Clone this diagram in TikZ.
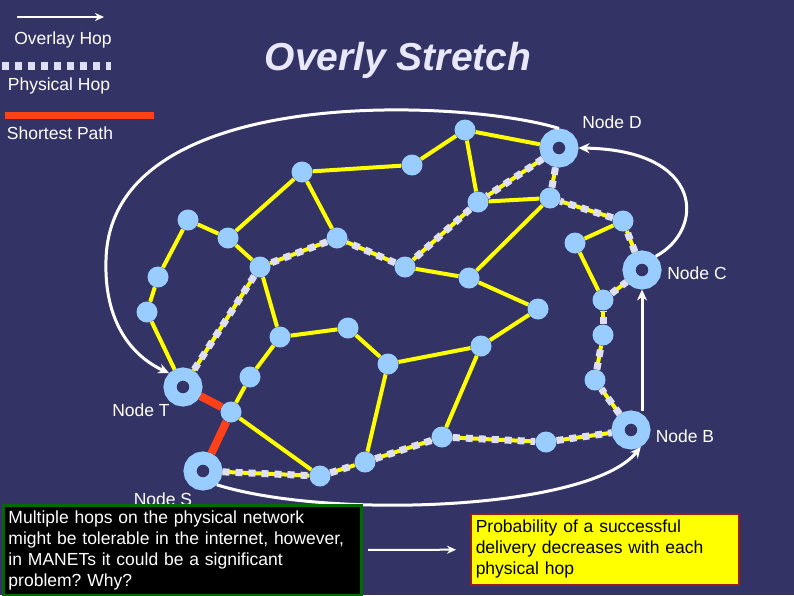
\documentclass[tikz,border=0pt]{standalone}
\usepackage{fontspec}
\setmainfont{Liberation Sans}
\usetikzlibrary{arrows.meta}
\frenchspacing

\definecolor{bgblue}{RGB}{51,51,102}
\definecolor{nodeblue}{RGB}{153,204,255}
\definecolor{linkyellow}{RGB}{255,255,0}
\definecolor{hopwhite}{RGB}{222,222,245}
\definecolor{pathred}{RGB}{255,65,25}
\definecolor{titlewhite}{RGB}{232,232,250}
\definecolor{boxgreen}{RGB}{0,105,0}
\definecolor{boxred}{RGB}{150,30,20}

\tikzset{
  host/.style={circle,fill=nodeblue,minimum size=21pt,inner sep=0pt},
  endhost/.style={circle,draw=nodeblue,fill=bgblue,line width=13pt,minimum size=26pt,inner sep=0pt},
  ylink/.style={draw=linkyellow,line width=4pt},
  physhop/.style={ylink,postaction={draw=hopwhite,line width=7pt,dash pattern=on 7pt off 6pt}},
  shortpath/.style={draw=pathred,line width=8pt},
  ovlhop/.style={draw=white,line width=3pt,-{Stealth[length=11pt,width=10pt]}},
  nodetag/.style={text=white},
}

\begin{document}
\begin{tikzpicture}[x=1pt,y=-1pt,>=Stealth, every node/.style={font=\fontsize{17.5}{21}\selectfont,text=white}]
\fill[bgblue] (0,0) rectangle (794,595);
\useasboundingbox (0,0) rectangle (794,595);

% legend
\coordinate (ovA) at (17,17);
\coordinate (ovB) at (104,17);
\draw[ovlhop,line width=2.5pt,-{Stealth[length=9pt,width=8pt]}] (ovA) -- (ovB);
\node (legOv) at (63,40) {Overlay Hop};
\coordinate (phA) at (2,66);
\coordinate (phB) at (111,66);
\draw[draw=hopwhite,line width=8pt,dash pattern=on 7pt off 6pt] (phA) -- (phB);
\node (legPh) at (59,86) {Physical Hop};
\coordinate (spA) at (5,115);
\coordinate (spB) at (154,115);
\draw[shortpath,line width=7pt] (spA) -- (spB);
\node (legSp) at (60,133) {Shortest Path};

\node[font=\fontsize{39}{44}\selectfont\bfseries\itshape,text=titlewhite] (title) at (398,60) {Overly Stretch};

% hosts
\node[host] (v1) at (465,130) {};
\node[host] (v2) at (412,165) {};
\node[host] (v3) at (302,172) {};
\node[host] (v4) at (188,220) {};
\node[host] (v5) at (228,238) {};
\node[host] (v6) at (337,238) {};
\node[host] (v7) at (478,202) {};
\node[host] (v8) at (550,198) {};
\node[host] (v9) at (623,221) {};
\node[host] (v10) at (575,243) {};
\node[host] (v11) at (260,267) {};
\node[host] (v12) at (405,267) {};
\node[host] (v13) at (469,278) {};
\node[host] (v14) at (158,277) {};
\node[host] (v15) at (147,312) {};
\node[host] (v16) at (603,300) {};
\node[host] (v17) at (603,335) {};
\node[host] (v18) at (280,337) {};
\node[host] (v19) at (348,328) {};
\node[host] (v20) at (481,346) {};
\node[host] (v21) at (388,364) {};
\node[host] (v22) at (250,377) {};
\node[host] (v23) at (595,380) {};
\node[host] (v24) at (231,412) {};
\node[host] (v25) at (442,437) {};
\node[host] (v26) at (546,442) {};
\node[host] (v27) at (320,476) {};
\node[host] (v28) at (365,462) {};
\node[host] (v29) at (538,309) {};

\node[endhost] (D) at (559,148) {};
\node[endhost] (C) at (642,270) {};
\node[endhost] (T) at (183,387) {};
\node[endhost] (B) at (631,430) {};
\node[endhost] (S) at (203,471) {};

\node[nodetag] (labD) at (612,122) {Node D};
\node[nodetag] (labC) at (697,273) {Node C};
\node[nodetag] (labT) at (141,410) {Node T};
\node[nodetag] (labB) at (685,436) {Node B};
\node[nodetag] (labS) at (163,499) {Node S};

% physical links
\draw[ylink] (v2) -- (v1);
\draw[ylink] (v1) -- (D);
\draw[ylink] (v1) -- (v7);
\draw[ylink] (v7) -- (v8);
\draw[ylink] (v8) -- (v13);
\draw[ylink] (v12) -- (v13);
\draw[ylink] (v13) -- (v29);
\draw[ylink] (v29) -- (v20);
\draw[ylink] (v20) -- (v21);
\draw[ylink] (v20) -- (v25);
\draw[ylink] (v21) -- (v19);
\draw[ylink] (v21) -- (v28);
\draw[ylink] (v19) -- (v18);
\draw[ylink] (v18) -- (v22);
\draw[ylink] (v22) -- (v24);
\draw[ylink] (v24) -- (v27);
\draw[ylink] (v18) -- (v11);
\draw[ylink] (v11) -- (v5);
\draw[ylink] (v5) -- (v4);
\draw[ylink] (v4) -- (v14);
\draw[ylink] (v14) -- (v15);
\draw[ylink] (v15) -- (T);
\draw[ylink] (v5) -- (v3);
\draw[ylink] (v3) -- (v6);
\draw[ylink] (v3) -- (v2);
\draw[ylink] (v9) -- (v10);
\draw[ylink] (v10) -- (v16);

% physical hops of the overlay route
\draw[physhop] (S) -- (v27);
\draw[physhop] (v27) -- (v28);
\draw[physhop] (v28) -- (v25);
\draw[physhop] (v25) -- (v26);
\draw[physhop] (v26) -- (B);
\draw[physhop] (B) -- (v23);
\draw[physhop] (v23) -- (v17);
\draw[physhop] (v17) -- (v16);
\draw[physhop] (v16) -- (C);
\draw[physhop] (C) -- (v9);
\draw[physhop] (v9) -- (v8);
\draw[physhop] (v8) -- (D);
\draw[physhop] (D) -- (v7);
\draw[physhop] (v7) -- (v12);
\draw[physhop] (v12) -- (v6);
\draw[physhop] (v6) -- (v11);
\draw[physhop] (v11) -- (T);

% shortest path
\draw[shortpath] (T) -- (v24);
\draw[shortpath] (v24) -- (S);

% overlay hops
\draw[ovlhop] (S.south east) .. controls (330,520) and (590,510) .. (B.-60);
\draw[ovlhop] (C.south |- B.north) -- (C.south);
\draw[ovlhop] (C.north east) .. controls (705,230) and (705,150) .. (D.east);
\draw[ovlhop] (D.north) .. controls (470,100) and (110,80) .. (106,260) .. controls (104,320) and (130,355) .. (T.north west);

% notes
\node[anchor=north west,fill=black,draw=boxgreen,line width=3pt,text width=348pt,inner xsep=5pt,minimum height=90pt,align=left] (why) at (2,504)
  {Multiple hops on the physical network\\might be tolerable in the internet, however,\\in MANETs it could be a significant\\problem? Why?};
\node[anchor=north west,fill=linkyellow,draw=boxred,line width=1.5pt,text=black,text width=258pt,inner xsep=5pt,minimum height=71pt,align=left] (prob) at (470,513)
  {Probability of a successful\\delivery decreases with each\\physical hop};
\draw[white,line width=2pt,-{Stealth[length=9pt,width=8pt]},shorten <=5pt,shorten >=14pt] (why) -- (prob);
\end{tikzpicture}
\end{document}
